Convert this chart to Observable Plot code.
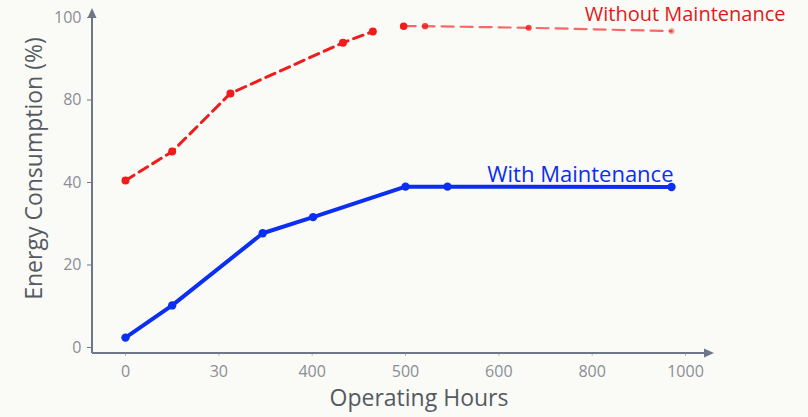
<!DOCTYPE html>
<html>
<head>
<meta charset="utf-8">
<script src="https://cdn.jsdelivr.net/npm/d3@7"></script>
<script src="https://cdn.jsdelivr.net/npm/@observablehq/plot@0.6"></script>
<style>
  html, body { margin: 0; padding: 0; background: #fafaf7; }
  #chart { width: 808px; height: 417px; }
</style>
</head>
<body>
<div id="chart"></div>
<script>
// Tick labels (the axis is drawn with evenly spaced, non-uniform ticks)
const xTicks = [0, 30, 400, 500, 600, 800, 1000];
const yTicks = [0, 20, 40, 80, 100];

// With Maintenance
const withHours = [0, 15, 204, 401, 500, 545, 970];
const withValues = [2.4, 10.2, 27.7, 31.6, 39.0, 39.0, 38.9];

// Without Maintenance (two segments, separated by a gap)
const withoutHoursA = [0, 15, 76, 433, 465];
const withoutValuesA = [41, 55, 81.6, 93.9, 96.6];
const withoutHoursB = [498, 521, 664, 970];
const withoutValuesB = [97.9, 97.9, 97.5, 96.7];

const seriesLabels = ["With Maintenance", "Without Maintenance"];

const zip = (xs, ys) => xs.map((x, i) => ({x, y: ys[i]}));
const withData = zip(withHours, withValues);
const withoutA = zip(withoutHoursA, withoutValuesA);
const withoutB = zip(withoutHoursB, withoutValuesB);

const RED = "#f01c1c";
const BLUE = "#0b2ff0";
const AXIS = "#6e7788";

function axesLines(index, scales, values, dim) {
  const g = d3.create("svg:g");
  const x0 = dim.marginLeft, yb = dim.height - dim.marginBottom;
  const top = 8, right = 714;
  g.append("line").attr("x1", x0).attr("x2", x0).attr("y1", yb).attr("y2", top + 8)
    .attr("stroke", AXIS).attr("stroke-width", 2);
  g.append("path").attr("d", `M${x0},${top}L${x0 - 4.5},${top + 10}L${x0 + 4.5},${top + 10}Z`).attr("fill", AXIS);
  g.append("line").attr("x1", x0).attr("x2", right - 8).attr("y1", yb).attr("y2", yb)
    .attr("stroke", AXIS).attr("stroke-width", 2);
  g.append("path").attr("d", `M${right},${yb}L${right - 10},${yb - 4.5}L${right - 10},${yb + 4.5}Z`).attr("fill", AXIS);
  return g.node();
}

const chart = Plot.plot({
  width: 808,
  height: 417,
  marginLeft: 92,
  marginRight: 123,
  marginTop: 17,
  marginBottom: 64,
  insetLeft: 33,
  insetBottom: 6,
  style: {fontFamily: "'Open Sans', sans-serif", background: "#fafaf7", overflow: "visible"},
  x: {type: "linear", domain: xTicks, ticks: xTicks},
  y: {type: "linear", domain: yTicks, ticks: yTicks},
  marks: [
    Plot.axisY({ticks: yTicks, tickSize: 5, tickPadding: 6, fontSize: 16, color: "#8a8e96", stroke: AXIS, label: null, tickFormat: d => String(d)}),
    Plot.axisX({ticks: xTicks, tickSize: 3, tickPadding: 9, fontSize: 16, color: "#8a8e96", stroke: "#b8bcc4", label: null, tickFormat: d => String(d)}),
    axesLines,
    Plot.text(["Energy Consumption (%)"], {frameAnchor: "left", textAnchor: "middle", lineAnchor: "middle", rotate: -90, dx: -58, dy: -17, fontSize: 23, fill: "#555a62"}),
    Plot.text(["Operating Hours"], {frameAnchor: "bottom", textAnchor: "middle", lineAnchor: "middle", dx: 30, dy: 45, fontSize: 23, fill: "#555a62"}),
    Plot.line(withoutA, {x: "x", y: "y", stroke: RED, strokeWidth: 3, strokeDasharray: "10,6"}),
    Plot.line(withoutB, {x: "x", y: "y", stroke: RED, strokeWidth: 2.2, strokeDasharray: "12,7", strokeOpacity: 0.65}),
    Plot.dot(withoutA, {x: "x", y: "y", r: 4, fill: RED}),
    Plot.dot(withoutB, {x: "x", y: "y", r: [4.5, 3.2, 3, 2.6], fill: RED, fillOpacity: [1, 0.85, 0.8, 0.45]}),
    Plot.line(withData, {x: "x", y: "y", stroke: BLUE, strokeWidth: 4}),
    Plot.dot(withData, {x: "x", y: "y", r: 4.2, fill: BLUE}),
    Plot.text([withData[withData.length - 1]], {x: "x", y: "y", text: () => seriesLabels[0], textAnchor: "end", lineAnchor: "bottom", dx: 2, dy: -5, fontSize: 22, fill: BLUE}),
    Plot.text([withoutB[withoutB.length - 1]], {x: "x", y: "y", text: () => seriesLabels[1], textAnchor: "end", lineAnchor: "bottom", dx: 114, dy: -10, fontSize: 20, fill: "#e01a1a"})
  ]
});
document.getElementById("chart").appendChild(chart);
</script>
</body>
</html>
